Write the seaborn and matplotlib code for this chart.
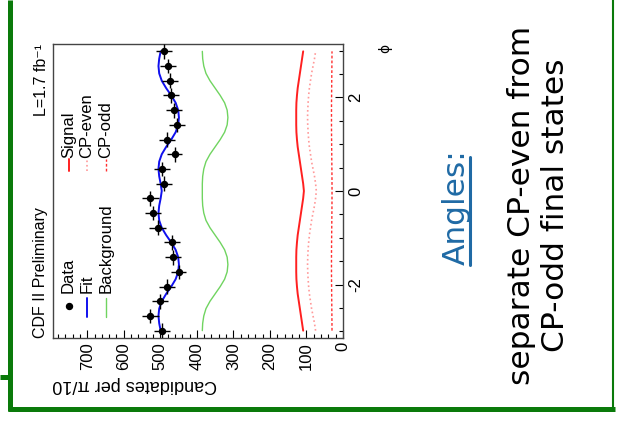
import numpy as np
import pandas as pd
import matplotlib.pyplot as plt
from matplotlib.lines import Line2D
from matplotlib.ticker import MultipleLocator
import seaborn as sns

W, H = 617, 421

# data points, 20 bins of pi/10 in phi
data_counts = [495, 527, 502, 481, 450, 466, 468, 507, 520, 527,
               490, 496, 461, 481, 454, 463, 470, 473, 478, 490]
data_errors = [22, 23, 22, 22, 21, 22, 22, 23, 23, 23,
               22, 22, 21, 22, 21, 22, 22, 22, 22, 22]

# fitted curves, every pi/20 from -19pi/20 to 19pi/20
fit_curve = [499, 503, 505, 503, 496, 484, 470, 458, 451, 449,
             451, 458, 470, 484, 496, 503, 505, 503, 499, 496,
             499, 503, 505, 503, 496, 484, 470, 458, 451, 449,
             451, 458, 470, 484, 496, 503, 505, 503, 499]
bkg_curve = [385, 384, 381, 375, 364, 350, 336, 324, 317, 315,
             317, 324, 336, 350, 364, 375, 381, 384, 385, 385,
             385, 384, 381, 375, 364, 350, 336, 324, 317, 315,
             317, 324, 336, 350, 364, 375, 381, 384, 385]
sig_curve = [109, 112, 115, 118, 121, 124, 126, 127.5, 128, 128,
             128, 127.5, 126, 124, 121, 118, 115, 112, 109, 107,
             109, 112, 115, 118, 121, 124, 126, 127.5, 128, 128,
             128, 127.5, 126, 124, 121, 118, 115, 112, 109]
even_curve = [75, 78, 82, 86, 89, 92, 94, 95.5, 96.5, 97,
              96.5, 95.5, 94, 92, 89, 86, 82, 78, 75, 73,
              75, 78, 82, 86, 89, 92, 94, 95.5, 96.5, 97,
              96.5, 95.5, 94, 92, 89, 86, 82, 78, 75]
odd_curve = [30.1, 30.2, 30.4, 30.6, 30.8, 31, 31.2, 31.4, 31.5, 31.5,
             31.5, 31.4, 31.2, 31, 30.8, 30.6, 30.4, 30.2, 30.1, 30,
             30.1, 30.2, 30.4, 30.6, 30.8, 31, 31.2, 31.4, 31.5, 31.5,
             31.5, 31.4, 31.2, 31, 30.8, 30.6, 30.4, 30.2, 30.1]

phi_bins = (np.arange(20) - 9.5) * np.pi / 10
phi_curve = (np.arange(39) - 19) * np.pi / 20

sns.set_style("ticks")
plt.rcParams['font.family'] = ['Liberation Sans', 'DejaVu Sans']
plt.rcParams['text.color'] = 'black'
plt.rcParams['xtick.color'] = 'black'
plt.rcParams['ytick.color'] = 'black'
plt.rcParams['axes.labelcolor'] = 'black'


def fx(x):
    return x / W


def fy(y):
    return 1 - y / H


fig = plt.figure(figsize=(W / 100, H / 100), dpi=100)
fig.patch.set_facecolor("white")

# the plot is turned by 90 degrees: phi runs upward, counts run leftward
ax = fig.add_axes([fx(52.5), fy(338), fx(343) - fx(52.5), fy(44) - fy(338)])

styles = {
    "Fit": dict(color="#1010ee", lw=1.4, ls="-"),
    "Background": dict(color="#70d460", lw=1.0, ls="-"),
    "Signal": dict(color="#ff2020", lw=1.4, ls="-"),
    "CP-even": dict(color="#ff9a9a", lw=1.2, ls=":"),
    "CP-odd": dict(color="#ff3030", lw=1.0, ls=(0, (2, 1.5))),
}
curves = {"Fit": fit_curve, "Background": bkg_curve, "Signal": sig_curve,
          "CP-even": even_curve, "CP-odd": odd_curve}

for name, vals in curves.items():
    df = pd.DataFrame({"phi": phi_curve, "n": vals})
    st = styles[name]
    sns.lineplot(data=df, x="n", y="phi", orient="y", ax=ax, legend=False,
                 color=st["color"], linewidth=st["lw"], linestyle=st["ls"])

ax.errorbar(data_counts, phi_bins, xerr=data_errors, yerr=np.pi / 20,
            fmt="o", ms=4.3, color="black", elinewidth=1, capsize=0, zorder=5)

ax.set_xlim(795, 0)
ax.set_ylim(-np.pi, np.pi)
ax.set_xlabel("")
ax.set_ylabel("")

ax.xaxis.set_major_locator(MultipleLocator(100))
ax.xaxis.set_minor_locator(MultipleLocator(20))
ax.set_xticks(range(0, 800, 100))
ax.set_xticklabels([str(v) for v in range(0, 800, 100)])
ax.yaxis.set_major_locator(MultipleLocator(2))
ax.yaxis.set_minor_locator(MultipleLocator(0.5))
ax.yaxis.tick_right()
ax.set_yticks([-2, 0, 2])
ax.set_yticklabels(["-2", "0", "2"])

ax.tick_params(axis="x", which="major", direction="in", length=6, width=0.8,
               labelsize=12, labelrotation=90, pad=3, bottom=True, top=False)
ax.tick_params(axis="x", which="minor", direction="in", length=3, width=0.8,
               bottom=True, top=False)
ax.tick_params(axis="y", which="major", direction="in", length=6, width=0.8,
               labelsize=12, labelrotation=90, pad=4, right=True, left=False)
ax.tick_params(axis="y", which="minor", direction="in", length=3, width=0.8,
               right=True, left=False)
for lab in ax.get_yticklabels():
    lab.set_va("center")
for s in ax.spines.values():
    s.set_visible(True)
    s.set_linewidth(1.0)
    s.set_color("#444444")

# axis titles
fig.text(fx(52), fy(385), "Candidates per π/10", rotation=180, fontsize=13,
         ha="left", va="center")
fig.text(fx(385), fy(44), "ϕ", rotation=90, fontsize=10,
         ha="center", va="top", family=["DejaVu Sans"])

# header texts
fig.text(fx(41), fy(338), "CDF II Preliminary", rotation=90, fontsize=11.5,
         ha="center", va="bottom")
fig.text(fx(42), fy(44), "L=1.7 fb⁻¹", rotation=90, fontsize=11.5,
         ha="center", va="top")

# legend, drawn turned like the plot
fig.add_artist(Line2D([fx(69)], [fy(306)], marker="o", ms=4.3, color="black",
                      transform=fig.transFigure))
legend_left = [("Data", None, 68.5), ("Fit", "Fit", 87), ("Background", "Background", 106)]
for label, key, x in legend_left:
    if key:
        st = styles[key]
        fig.add_artist(Line2D([fx(x), fx(x)], [fy(317), fy(298)], color=st["color"],
                              lw=st["lw"], ls=st["ls"], transform=fig.transFigure))
    fig.text(fx(x), fy(293), label, rotation=90, fontsize=12, ha="center", va="bottom")

legend_right = [("Signal", 69), ("CP-even", 87), ("CP-odd", 105.5)]
for label, x in legend_right:
    st = styles[label]
    fig.add_artist(Line2D([fx(x), fx(x)], [fy(171), fy(159)], color=st["color"],
                          lw=st["lw"], ls=st["ls"], transform=fig.transFigure))
    fig.text(fx(x), fy(158), label, rotation=90, fontsize=12, ha="center", va="bottom")

# slide text
blue = "#1f6aa5"
fig.text(fx(456), fy(207), "Angles:", rotation=90, fontsize=22.5, color=blue,
         ha="center", va="center", family=["DejaVu Sans"])
fig.add_artist(Line2D([fx(470), fx(470)], [fy(265), fy(157)], color=blue, lw=2.2,
                      transform=fig.transFigure))
fig.text(fx(521), fy(205), "separate CP-even from", rotation=90, fontsize=22.5,
         color="black", ha="center", va="center", family=["DejaVu Sans"])
fig.text(fx(556), fy(205), "CP-odd final states", rotation=90, fontsize=22.5,
         color="black", ha="center", va="center", family=["DejaVu Sans"])

# green slide frame
green = "#0a7a0a"
for xs, ys, lw in [((10, 10), (0, 411), 3.6), ((7.5, 615), (408.5, 408.5), 3.6),
                   ((0, 10), (376.5, 376.5), 3.6), ((613, 613), (0, 408), 1.5)]:
    fig.add_artist(Line2D([fx(v) for v in xs], [fy(v) for v in ys], color=green,
                          lw=lw, solid_capstyle="butt", transform=fig.transFigure))

fig.savefig("out.png", dpi=100)
